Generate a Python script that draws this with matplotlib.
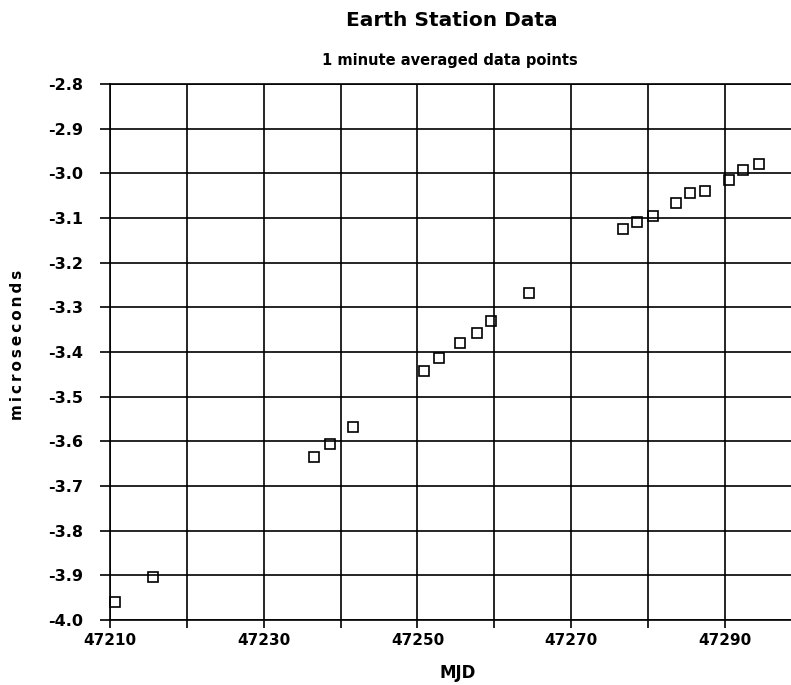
import matplotlib
matplotlib.use("Agg")
import matplotlib.pyplot as plt
from matplotlib.ticker import FixedLocator

plt.rcParams['font.family'] = ['DejaVu Sans']
plt.rcParams['font.weight'] = 'bold'

# Data
mjd = [47210.7, 47215.6, 47236.6, 47238.6, 47241.6,
       47250.8, 47252.8, 47255.6, 47257.7, 47259.6, 47264.5,
       47276.7, 47278.6, 47280.6, 47283.6, 47285.5, 47287.4,
       47290.5, 47292.4, 47294.5]
microseconds = [-3.960, -3.903, -3.635, -3.605, -3.569,
                -3.443, -3.414, -3.380, -3.357, -3.330, -3.268,
                -3.125, -3.109, -3.095, -3.066, -3.045, -3.039,
                -3.016, -2.993, -2.980]

x_ticks = [47210, 47220, 47230, 47240, 47250, 47260, 47270, 47280, 47290]
x_tick_labels = ['47210', '', '47230', '', '47250', '', '47270', '', '47290']
y_ticks = [-2.8, -2.9, -3.0, -3.1, -3.2, -3.3, -3.4, -3.5, -3.6, -3.7, -3.8, -3.9, -4.0]
y_tick_labels = ['-2.8', '-2.9', '-3.0', '-3.1', '-3.2', '-3.3', '-3.4', '-3.5',
                 '-3.6', '-3.7', '-3.8', '-3.9', '-4.0']

title = 'Earth Station Data'
subtitle = '1 minute averaged data points'
xlabel = 'MJD'
ylabel = 'microseconds'

W, H = 791, 685
fig = plt.figure(figsize=(W / 100, H / 100), dpi=100)
ax = fig.add_axes([110 / W, 1 - 620 / H, 1 - 110 / W, (620 - 84) / H])

ax.plot(mjd, microseconds, linestyle='none', marker='s', markersize=7,
        markerfacecolor='none', markeredgecolor='black', markeredgewidth=1.2,
        zorder=3, clip_on=False)

ax.set_xlim(47210, 47298.6)
ax.set_ylim(-4.0, -2.8)
ax.xaxis.set_major_locator(FixedLocator(x_ticks))
ax.set_xticklabels(x_tick_labels)
ax.yaxis.set_major_locator(FixedLocator(y_ticks))
ax.set_yticklabels(y_tick_labels)

ax.grid(True, color='black', linewidth=1.2)
ax.set_axisbelow(True)
ax.spines['right'].set_visible(False)
for side in ['left', 'bottom', 'top']:
    ax.spines[side].set_linewidth(1.2)
    ax.spines[side].set_color('black')

ax.tick_params(axis='x', length=6, width=1.2, pad=3.5, labelsize=11)
ax.tick_params(axis='y', length=7, width=1.2, pad=12, labelsize=11.5)
for lab in ax.get_xticklabels() + ax.get_yticklabels():
    lab.set_fontweight('bold')

fig.text(452 / W, 1 - 20 / H, title, ha='center', va='center',
         fontsize=14.5, fontweight='bold')
fig.text(450 / W, 1 - 61 / H, subtitle, ha='center', va='center',
         fontsize=10.5, fontweight='bold')
fig.text(458 / W, 1 - 673 / H, xlabel, ha='center', va='center',
         fontsize=12, fontweight='bold')
fig.text(18 / W, 1 - 345 / H, '\u2009'.join(ylabel), ha='center', va='center',
         rotation=90, fontsize=11, fontweight='bold')

fig.savefig('out.png', dpi=100)
